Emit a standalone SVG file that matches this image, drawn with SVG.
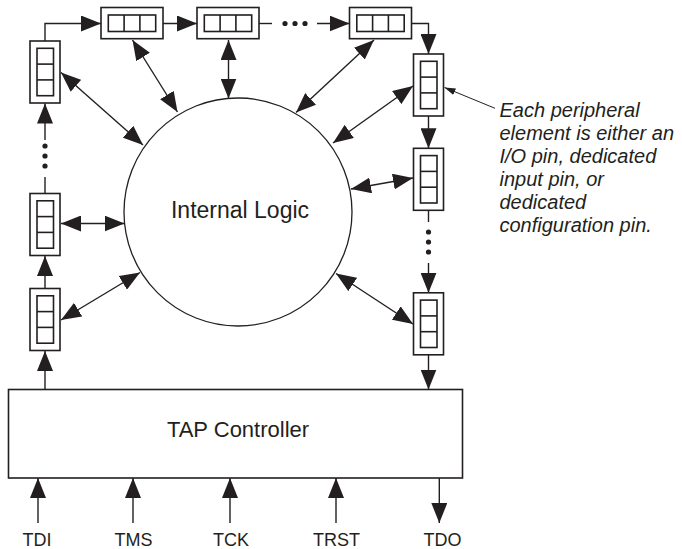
<svg xmlns="http://www.w3.org/2000/svg" width="682" height="549" viewBox="0 0 682 549">
<style>
  .box{fill:#fff;stroke:#231f20;stroke-width:1.6}
  .in{fill:none;stroke:#231f20;stroke-width:1.6}
  .ln{fill:none;stroke:#231f20;stroke-width:1.4}
  .dbl{fill:none;stroke:#231f20;stroke-width:1.4;marker-start:url(#ah);marker-end:url(#ah)}
  .one{fill:none;stroke:#231f20;stroke-width:1.4;marker-end:url(#ah)}
  .dot{fill:#231f20}
  .lbl{font-family:"Liberation Sans",Arial,sans-serif;fill:#231f20}
  .note{font-family:"Liberation Sans",Arial,sans-serif;font-style:italic;font-size:20px;fill:#231f20}
</style>
<defs>
  <marker id="ah" markerUnits="userSpaceOnUse" markerWidth="20" markerHeight="16" viewBox="0 0 20 16" refX="20" refY="8" orient="auto-start-reverse">
    <path d="M0,0 L20,8 L0,16 z" fill="#231f20"/>
  </marker>
  <marker id="sm" markerUnits="userSpaceOnUse" markerWidth="11" markerHeight="7" viewBox="0 0 11 7" refX="11" refY="3.5" orient="auto">
    <path d="M0,0 L11,3.5 L0,7 z" fill="#231f20"/>
  </marker>
  <g id="vcell">
    <rect class="box" x="0" y="0" width="30" height="62"/>
    <rect class="in" x="7" y="7.3" width="16.5" height="47.4"/>
    <line class="in" x1="7" y1="23.1" x2="23.5" y2="23.1"/>
    <line class="in" x1="7" y1="38.9" x2="23.5" y2="38.9"/>
  </g>
  <g id="hcell">
    <rect class="box" x="0" y="0" width="62" height="31.2"/>
    <rect class="in" x="7.3" y="7.5" width="47.4" height="16.5"/>
    <line class="in" x1="23.1" y1="7.5" x2="23.1" y2="24"/>
    <line class="in" x1="38.9" y1="7.5" x2="38.9" y2="24"/>
  </g>
</defs>

<g id="internal-logic">
  <circle cx="238" cy="212" r="114" fill="none" stroke="#231f20" stroke-width="1.3"/>
  <text class="lbl" x="240" y="218" font-size="23" text-anchor="middle">Internal Logic</text>
</g>

<g id="tap-controller">
  <rect class="box" x="8.5" y="389.5" width="454" height="88.5"/>
  <text class="lbl" x="238" y="437" font-size="22" text-anchor="middle">TAP Controller</text>
</g>

<g id="L1"><use href="#vcell" x="30" y="41"/></g>
<g id="L2"><use href="#vcell" x="30" y="193.5"/></g>
<g id="L3"><use href="#vcell" x="30" y="288.5"/></g>
<g id="T1"><use href="#hcell" x="101" y="7.5"/></g>
<g id="T2"><use href="#hcell" x="197" y="7.5"/></g>
<g id="T3"><use href="#hcell" x="349.5" y="7.5"/></g>
<g id="R1"><use href="#vcell" x="413.5" y="54"/></g>
<g id="R2"><use href="#vcell" x="413.5" y="148.3"/></g>
<g id="R3"><use href="#vcell" x="413.5" y="292.8"/></g>

<g id="pin-labels" class="lbl" font-size="18" text-anchor="middle">
  <text x="37" y="546">TDI</text>
  <text x="133.5" y="546">TMS</text>
  <text x="231" y="546">TCK</text>
  <text x="336.5" y="546">TRST</text>
  <text x="442.5" y="546">TDO</text>
</g>

<g id="note">
  <text class="note" x="499.5" y="117">Each peripheral</text>
  <text class="note" x="499.5" y="140">element is either an</text>
  <text class="note" x="499.5" y="163">I/O pin, dedicated</text>
  <text class="note" x="499.5" y="186">input pin, or</text>
  <text class="note" x="499.5" y="209">dedicated</text>
  <text class="note" x="499.5" y="232">configuration pin.</text>
</g>

<g id="connectors">
  <!-- scan chain -->
  <path class="one" d="M45,389.5 L45,351"/>
  <path class="one" d="M45,288.5 L45,256"/>
  <path class="ln" d="M45,193.5 L45,177"/>
  <circle class="dot" cx="45" cy="166" r="2.6"/>
  <circle class="dot" cx="45" cy="156" r="2.6"/>
  <circle class="dot" cx="45" cy="146" r="2.6"/>
  <path class="one" d="M45,140 L45,103.5"/>
  <path class="one" d="M45,41 L45,23.5 L101,23.5"/>
  <path class="one" d="M163,23.5 L197,23.5"/>
  <path class="ln" d="M259,23.5 L272,23.5"/>
  <circle class="dot" cx="285" cy="23.5" r="2.6"/>
  <circle class="dot" cx="295" cy="23.5" r="2.6"/>
  <circle class="dot" cx="305" cy="23.5" r="2.6"/>
  <path class="one" d="M317,23.5 L349.5,23.5"/>
  <path class="one" d="M411.5,23.5 L428.5,23.5 L428.5,54"/>
  <path class="one" d="M428.5,116 L428.5,148.3"/>
  <path class="ln" d="M428.5,210.3 L428.5,222"/>
  <circle class="dot" cx="428.5" cy="232" r="2.6"/>
  <circle class="dot" cx="428.5" cy="242" r="2.6"/>
  <circle class="dot" cx="428.5" cy="252" r="2.6"/>
  <path class="one" d="M428.5,263 L428.5,292.8"/>
  <path class="one" d="M428.5,354.8 L428.5,389.5"/>
  <!-- TAP pins -->
  <path class="one" d="M38,523 L38,478"/>
  <path class="one" d="M133,523 L133,478"/>
  <path class="one" d="M230,523 L230,478"/>
  <path class="one" d="M336,523 L336,478"/>
  <path class="one" d="M439.3,478 L439.3,523"/>
  <!-- element to internal logic -->
  <path class="dbl" d="M61,72.5 L143,145"/>
  <path class="dbl" d="M132.5,40 L177.5,112"/>
  <path class="dbl" d="M228.5,40 L228.5,98.5"/>
  <path class="dbl" d="M374,40 L296,112.5"/>
  <path class="dbl" d="M413,86 L333,143"/>
  <path class="dbl" d="M61,223.5 L124.5,223.5"/>
  <path class="dbl" d="M351,189 L413,178"/>
  <path class="dbl" d="M61,320 L140,272.5"/>
  <path class="dbl" d="M336,273.5 L413,324"/>
  <!-- callout -->
  <path d="M495,108.3 L444.5,87.5" fill="none" stroke="#231f20" stroke-width="1" marker-end="url(#sm)"/>
</g>
</svg>
